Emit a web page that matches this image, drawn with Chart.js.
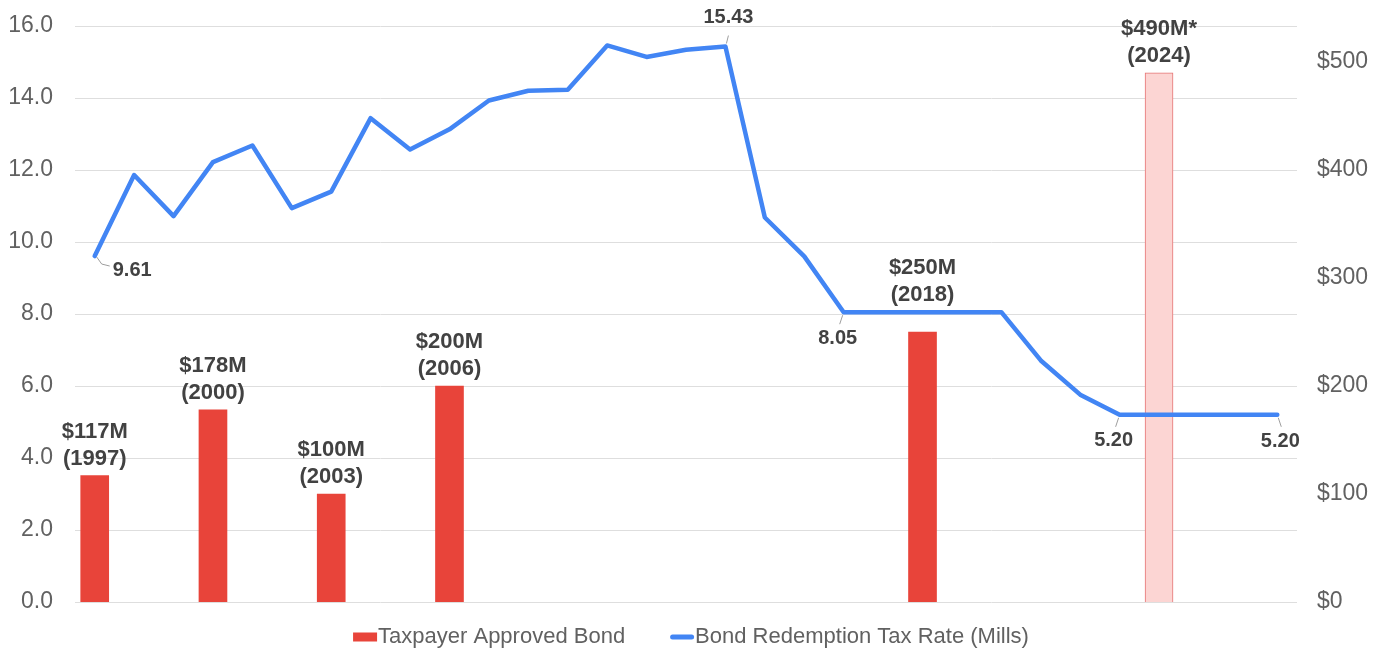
<!DOCTYPE html>
<html>
<head>
<meta charset="utf-8">
<title>Taxpayer Approved Bonds vs Bond Redemption Tax Rate</title>
<script src="https://cdn.jsdelivr.net/npm/chart.js@4"></script>
<style>
  html, body { margin: 0; padding: 0; background: #fff; }
  #wrap { position: relative; width: 1388px; height: 649px; }
</style>
</head>
<body>
<div id="wrap"><canvas id="bondChart"></canvas></div>
<script>
// Bond issues (right axis, $M) and the bond redemption tax rate (left axis, mills)

const YEARS = [
    '1997', '1998', '1999', '2000', '2001', '2002', '2003', '2004', '2005', '2006',
    '2007', '2008', '2009', '2010', '2011', '2012', '2013', '2014', '2015', '2016',
    '2017', '2018', '2019', '2020', '2021', '2022', '2023', '2024', '2025', '2026', '2027'
];

// Taxpayer approved bond amount, $ millions (null = no bond that year)
const BOND_AMOUNTS = [
    117, null, null, 178, null, null, 100, null, null, 200,
    null, null, null, null, null, null, null, null, null, null,
    null, 250, null, null, null, null, null, 490, null, null, null
];

// Bond redemption tax rate, mills
const TAX_RATE = [
    9.61, 11.86, 10.72, 12.22, 12.68, 10.94, 11.40, 13.44, 12.57, 13.13,
    13.93, 14.20, 14.23, 15.46, 15.14, 15.34, 15.43, 10.68, 9.60, 8.05,
    8.05, 8.05, 8.05, 8.05, 6.71, 5.76, 5.20, 5.20, 5.20, 5.20, 5.20
];

const LEFT_TICKS = [0, 2, 4, 6, 8, 10, 12, 14, 16];
const RIGHT_TICKS = [0, 100, 200, 300, 400, 500];

const PROPOSED_YEAR = '2024';                       // bar shown as proposed (*)
const LINE_LABEL_YEARS = ['1997', '2013', '2016', '2023', '2027'];

const RED = '#e8443a';
const PINK = '#fcd5d3';
const PINK_BORDER = '#e57373';
const BLUE = '#4285f4';
const GRID = '#dedede';
const TICK_COLOR = '#616161';
const LABEL_COLOR = '#424242';
const FONT = '"Liberation Sans", Arial, sans-serif';

Chart.defaults.font.family = FONT;

// where each line label sits relative to its point
const PLACE = {
    right:      { lead: [[2, 1], [7, 8], [15, 10]], text: [18, 14], align: 'left' },
    above:      { lead: [[1, -3], [3, -11]], text: [3, -29], align: 'center' },
    belowLeft:  { lead: [[-1, 3], [-4, 12]], text: [-6, 26], align: 'center' },
    belowRight: { lead: [[1, 3], [4, 12]], text: [3, 27], align: 'center' }
};
const LINE_LABEL_PLACE = { '1997': 'right', '2013': 'above', '2016': 'belowLeft', '2023': 'belowLeft', '2027': 'belowRight' };

const valueLabels = {
    id: 'valueLabels',
    afterDatasetsDraw(chart) {
        const ctx = chart.ctx;
        const barMeta = chart.getDatasetMeta(0);
        const lineMeta = chart.getDatasetMeta(1);
        ctx.save();
        ctx.fillStyle = LABEL_COLOR;
        ctx.textBaseline = 'middle';

        // bar labels: "$117M" over "(1997)"
        ctx.textAlign = 'center';
        ctx.font = 'bold 22px ' + FONT;
        BOND_AMOUNTS.forEach((v, i) => {
            if (v == null) return;
            const bar = barMeta.data[i];
            let anchor = bar.y;
            const ly = lineMeta.data[i].y;
            if (ly < anchor && anchor - ly < 50) anchor = ly;   // sit above the line when it crowds the bar
            const star = YEARS[i] === PROPOSED_YEAR ? '*' : '';
            ctx.fillText('$' + v + 'M' + star, bar.x, anchor - 44);
            ctx.fillText('(' + YEARS[i] + ')', bar.x, anchor - 17);
        });

        // line labels with small leader lines
        ctx.font = 'bold 20px ' + FONT;
        LINE_LABEL_YEARS.forEach(year => {
            const i = YEARS.indexOf(year);
            const pt = lineMeta.data[i];
            const p = PLACE[LINE_LABEL_PLACE[year]];
            ctx.strokeStyle = '#9e9e9e';
            ctx.lineWidth = 1;
            ctx.beginPath();
            p.lead.forEach(([dx, dy], k) => {
                if (k === 0) ctx.moveTo(pt.x + dx, pt.y + dy);
                else ctx.lineTo(pt.x + dx, pt.y + dy);
            });
            ctx.stroke();
            ctx.textAlign = p.align;
            ctx.fillText(TAX_RATE[i].toFixed(2), pt.x + p.text[0], pt.y + p.text[1]);
        });
        ctx.restore();
    }
};

const bottomLegend = {
    id: 'bottomLegend',
    afterDraw(chart) {
        const ctx = chart.ctx;
        const sets = chart.data.datasets;
        const boxW = 24, gap = 45, y = 637;
        ctx.save();
        ctx.font = '22px ' + FONT;
        ctx.textBaseline = 'middle';
        ctx.textAlign = 'left';
        const widths = sets.map(ds => boxW + 1 + ctx.measureText(ds.label).width);
        const total = widths.reduce((a, b) => a + b, 0) + gap * (sets.length - 1);
        let x = chart.width / 2 - total / 2 - 3;
        sets.forEach((ds, k) => {
            if (ds.type === 'line') {
                ctx.strokeStyle = BLUE;
                ctx.lineWidth = 5;
                ctx.lineCap = 'round';
                ctx.beginPath();
                ctx.moveTo(x + 2.5, y);
                ctx.lineTo(x + boxW - 2.5, y);
                ctx.stroke();
            } else {
                ctx.fillStyle = RED;
                ctx.fillRect(x, y - 4.5, boxW, 9);
            }
            ctx.fillStyle = TICK_COLOR;
            ctx.fillText(ds.label, x + boxW + 1, y);
            x += widths[k] + gap;
        });
        ctx.restore();
    }
};

// fixed axis width, and no extra room for the end tick labels
function fixAxis(width) {
    return s => {
        s.width = width;
        s.paddingTop = 0;
        s.paddingBottom = 0;
    };
}

const ctx = document.getElementById('bondChart').getContext('2d');
new Chart(ctx, {
    type: 'bar',
    data: {
        labels: YEARS,
        datasets: [
            {
                type: 'bar',
                label: 'Taxpayer Approved Bond',
                data: BOND_AMOUNTS,
                yAxisID: 'y1',
                barThickness: 28,
                backgroundColor: YEARS.map(y => y === PROPOSED_YEAR ? PINK : RED),
                borderColor: YEARS.map(y => y === PROPOSED_YEAR ? PINK_BORDER : RED),
                borderWidth: YEARS.map(y => y === PROPOSED_YEAR ? 1 : 0),
                order: 1
            },
            {
                type: 'line',
                label: 'Bond Redemption Tax Rate (Mills)',
                data: TAX_RATE,
                yAxisID: 'y',
                borderColor: BLUE,
                backgroundColor: BLUE,
                borderWidth: 4.5,
                borderCapStyle: 'round',
                borderJoinStyle: 'round',
                pointRadius: 0,
                tension: 0,
                order: 0
            }
        ]
    },
    options: {
        responsive: true,
        maintainAspectRatio: false,
        animation: false,
        layout: { padding: { top: 26, bottom: 47, left: 0, right: 0 } },
        plugins: {
            legend: { display: false },
            tooltip: { enabled: false }
        },
        scales: {
            x: { display: false, offset: true, grid: { display: false } },
            y: {
                position: 'left',
                min: LEFT_TICKS[0],
                max: LEFT_TICKS[LEFT_TICKS.length - 1],
                afterFit: fixAxis(75),
                afterBuildTicks: s => { s.ticks = LEFT_TICKS.map(v => ({ value: v })); },
                ticks: {
                    padding: 22,
                    color: TICK_COLOR,
                    font: { size: 23 },
                    callback: v => v.toFixed(1)
                },
                grid: { color: GRID, lineWidth: 1, drawTicks: false },
                border: { display: false }
            },
            y1: {
                position: 'right',
                min: 0,
                max: 533.3,
                afterFit: fixAxis(91),
                afterBuildTicks: s => { s.ticks = RIGHT_TICKS.map(v => ({ value: v })); },
                ticks: {
                    padding: 20,
                    color: TICK_COLOR,
                    font: { size: 23 },
                    callback: v => '$' + v
                },
                grid: { display: false, drawTicks: false },
                border: { display: false }
            }
        }
    },
    plugins: [valueLabels, bottomLegend]
});
</script>
</body>
</html>
